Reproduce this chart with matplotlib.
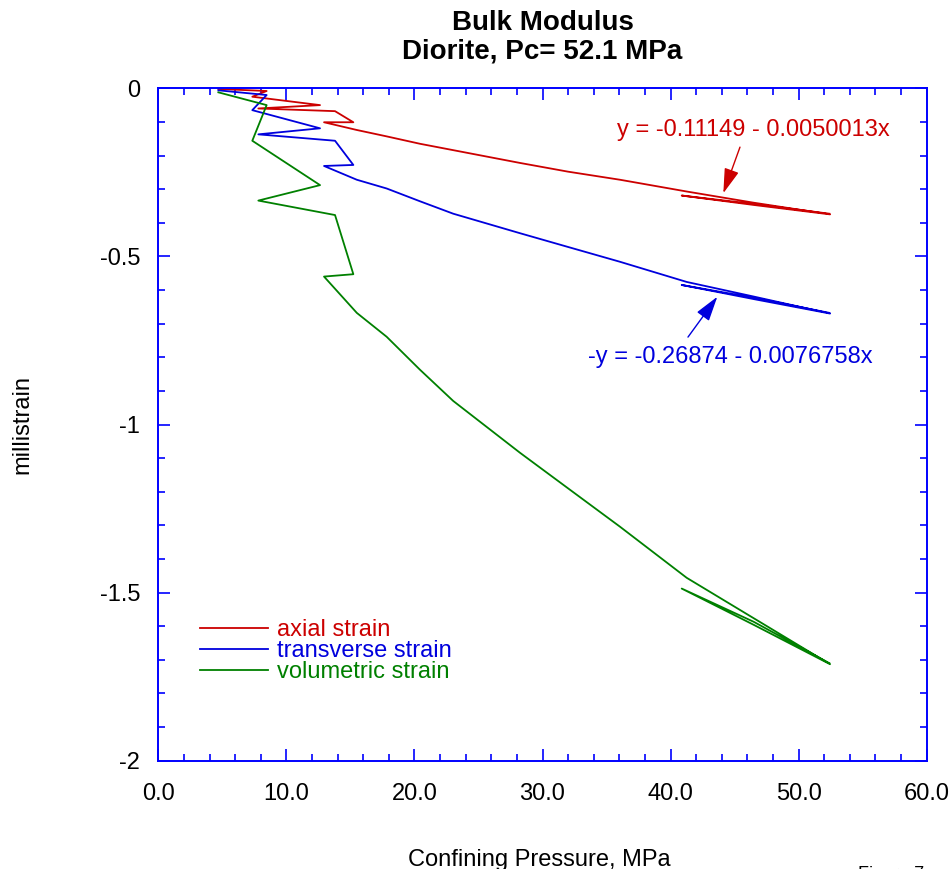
import matplotlib
matplotlib.use('Agg')
import matplotlib.pyplot as plt
from matplotlib.ticker import MultipleLocator, FixedLocator, FixedFormatter

plt.rcParams['font.family'] = ['Liberation Sans', 'DejaVu Sans']
plt.rcParams['axes.unicode_minus'] = False

# ---- data ----
pressure = [4.69, 8.46, 7.34, 12.63, 7.81, 13.80, 15.23, 12.94,
            15.5, 17.83, 20.43, 23.03, 28.24, 32.0, 36.05, 41.26, 46.44, 52.45,
            46.5, 40.87, 46.5, 52.4]
axial = [-0.002, -0.008, -0.025, -0.050, -0.060, -0.068, -0.101, -0.101,
         -0.124, -0.143, -0.165, -0.184, -0.222, -0.248, -0.272, -0.307, -0.340, -0.375,
         -0.347, -0.319, -0.344, -0.373]
transverse = [-0.006, -0.020, -0.065, -0.119, -0.137, -0.156, -0.228, -0.231,
              -0.272, -0.298, -0.336, -0.373, -0.431, -0.472, -0.516, -0.576, -0.619, -0.670,
              -0.627, -0.585, -0.623, -0.668]
volumetric = [-0.012, -0.050, -0.156, -0.288, -0.334, -0.377, -0.553, -0.560,
              -0.668, -0.739, -0.837, -0.930, -1.084, -1.190, -1.304, -1.456, -1.575, -1.713,
              -1.596, -1.488, -1.587, -1.710]

series_labels = ['axial strain', 'transverse strain', 'volumetric strain']
series_colors = ['#cc0000', '#0000dd', '#008000']

xticks = [0, 10, 20, 30, 40, 50, 60]
xticklabels = ['0.0', '10.0', '20.0', '30.0', '40.0', '50.0', '60.0']
yticks = [0, -0.5, -1, -1.5, -2]
yticklabels = ['0', '-0.5', '-1', '-1.5', '-2']

eq_axial = 'y = -0.11149 - 0.0050013x'
eq_axial_pos = (46.44, -0.124)
eq_axial_arrow = ((45.42, -0.175), (44.12, -0.312))
eq_trans = '-y = -0.26874 - 0.0076758x'
eq_trans_pos = (44.64, -0.799)
eq_trans_arrow = ((41.36, -0.740), (43.65, -0.620))

# ---- figure ----
W, H = 953, 869
fig = plt.figure(figsize=(W / 100, H / 100), dpi=100)
left, right, top, bottom = 158.3, 926.7, 88.3, 760.7
ax = fig.add_axes([left / W, 1 - bottom / H, (right - left) / W, (bottom - top) / H])

for ys, lab, col in zip([axial, transverse, volumetric], series_labels, series_colors):
    ax.plot(pressure, ys, color=col, lw=1.3, label=lab)

ax.set_xlim(0, 60)
ax.set_ylim(-2, 0)
ax.xaxis.set_major_locator(FixedLocator(xticks))
ax.xaxis.set_major_formatter(FixedFormatter(xticklabels))
ax.xaxis.set_minor_locator(MultipleLocator(2))
ax.yaxis.set_major_locator(FixedLocator(yticks))
ax.yaxis.set_major_formatter(FixedFormatter(yticklabels))
ax.yaxis.set_minor_locator(MultipleLocator(0.1))

for s in ax.spines.values():
    s.set_color('#0000ff')
    s.set_linewidth(1.4)
ax.tick_params(which='both', direction='in', top=True, right=True,
               color='#0000ff', width=1.2, labelsize=17)
ax.tick_params(axis='x', which='both', pad=16)
ax.tick_params(axis='y', which='both', pad=13)
ax.tick_params(which='major', length=8.5)
ax.tick_params(which='minor', length=5)

ax.set_title('Bulk Modulus\nDiorite, Pc= 52.1 MPa', fontsize=20, fontweight='bold',
             linespacing=1.12, pad=21.5)
ax.set_xlabel('Confining Pressure, MPa', fontsize=17)
ax.xaxis.set_label_coords(0.4955, -0.131)
ax.set_ylabel('millistrain', fontsize=17)
ax.yaxis.set_label_coords(-0.1626, 0.5)

ax.text(*eq_axial_pos, eq_axial, color=series_colors[0], fontsize=17, ha='center', va='center')
ax.annotate('', xy=eq_axial_arrow[1], xytext=eq_axial_arrow[0],
            arrowprops=dict(arrowstyle='-|>,head_length=0.9,head_width=0.27',
                            color=series_colors[0], lw=1.0, mutation_scale=17,
                            shrinkA=0, shrinkB=0))
ax.text(*eq_trans_pos, eq_trans, color=series_colors[1], fontsize=17, ha='center', va='center')
ax.annotate('', xy=eq_trans_arrow[1], xytext=eq_trans_arrow[0],
            arrowprops=dict(arrowstyle='-|>,head_length=0.9,head_width=0.27',
                            color=series_colors[1], lw=1.0, mutation_scale=17,
                            shrinkA=0, shrinkB=0))

ax.legend(loc='upper left', bbox_to_anchor=(0.054, 0.2107), frameon=False,
          handlelength=2.9, handletextpad=0.35, labelspacing=-0.04,
          borderpad=0, borderaxespad=0, labelcolor='linecolor', fontsize=17)

fig.text(858 / W, 1 - 879 / H, 'Figure 7', fontsize=13, va='baseline', ha='left')

fig.savefig('out.png', dpi=100)
